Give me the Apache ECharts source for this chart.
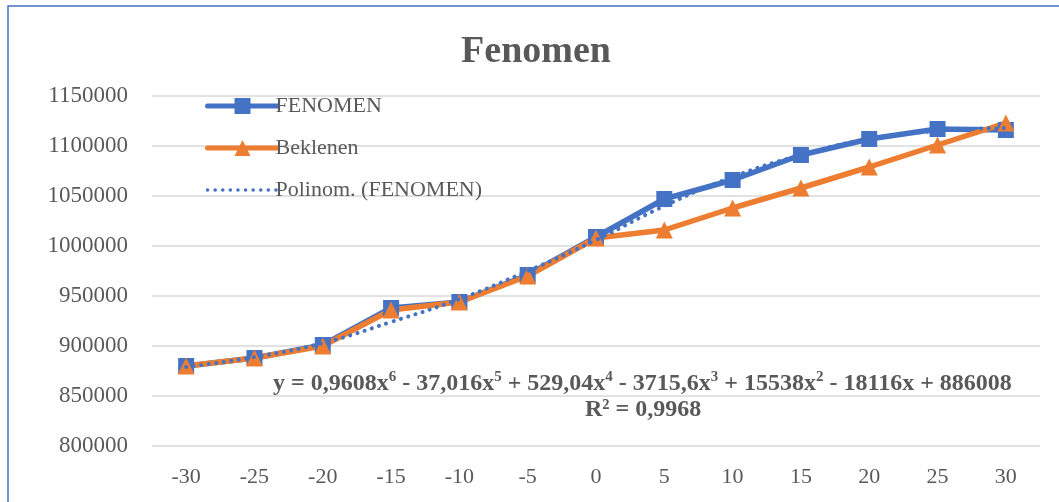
<!DOCTYPE html>
<html>
<head>
<meta charset="utf-8">
<title>Fenomen</title>
<script src="https://cdn.jsdelivr.net/npm/echarts@6/dist/echarts.min.js"></script>
<style>
  html, body { margin: 0; padding: 0; background: #fff; }
  #chart { width: 1059px; height: 502px; }
</style>
</head>
<body>
<div id="chart"></div>
<script>
// categories (x values)
var categories = ['-30', '-25', '-20', '-15', '-10', '-5', '0', '5', '10', '15', '20', '25', '30'];
// measured series
var fenomen = [880000, 888000, 901000, 938000, 944000, 971000, 1009000, 1047000, 1066000, 1091000, 1107000, 1117000, 1116000];
var beklenen = [880000, 888000, 900000, 936000, 944000, 970000, 1008000, 1016000, 1038000, 1058000, 1079000, 1101000, 1123000];
// trendline
var polinom = [879000, 889000, 903000, 924000, 947000, 975000, 1006000, 1040000, 1069000, 1091000, 1107000, 1115000, 1118000];

var textColor = '#595959';
var blue = '#4472C4';
var orange = '#ED7D31';
var font = '"Liberation Serif", "Times New Roman", serif';

var chart = echarts.init(document.getElementById('chart'));
chart.setOption({
  animation: false,
  textStyle: { fontFamily: font },
  title: {
    text: 'Fenomen',
    left: 531,
    textAlign: 'center',
    top: 28,
    textStyle: { fontFamily: font, fontSize: 38, fontWeight: 'bold', color: textColor }
  },
  legend: {
    orient: 'vertical',
    left: 200,
    top: 90,
    itemWidth: 70,
    itemHeight: 20,
    itemGap: 20,
    textStyle: { fontFamily: font, fontSize: 22, color: textColor, padding: [0, 0, 0, -7] },
    data: [
      { name: 'FENOMEN', lineStyle: { width: 5, color: blue }, itemStyle: { color: blue } },
      { name: 'Beklenen', lineStyle: { width: 5, color: orange }, itemStyle: { color: orange } },
      { name: 'Polinom. (FENOMEN)', lineStyle: { width: 3.5, color: blue, type: [0.1, 7.5], cap: 'round' }, itemStyle: { opacity: 0 } }
    ]
  },
  grid: { left: 152, right: 19, top: 96, bottom: 56 },
  xAxis: {
    type: 'category',
    data: categories,
    boundaryGap: true,
    axisLine: { show: false },
    axisTick: { show: false },
    axisLabel: { fontFamily: font, fontSize: 22, color: textColor, margin: 20 }
  },
  yAxis: {
    type: 'value',
    min: 800000,
    max: 1150000,
    interval: 50000,
    axisLine: { show: false },
    axisTick: { show: false },
    axisLabel: {
      fontFamily: font, fontSize: 23, color: textColor, margin: 24,
      formatter: function (v) { return String(v); }
    },
    splitLine: { lineStyle: { color: '#D9D9D9', width: 1.5 } }
  },
  series: [
    {
      name: 'Polinom. (FENOMEN)',
      type: 'line',
      data: polinom,
      smooth: 0.5,
      showSymbol: false,
      symbol: 'none',
      z: 3,
      lineStyle: { color: blue, width: 4, type: [0.1, 7.5], cap: 'round' },
      itemStyle: { color: blue }
    },
    {
      name: 'FENOMEN',
      type: 'line',
      data: fenomen,
      symbol: 'rect',
      symbolSize: 16,
      z: 2,
      lineStyle: { color: blue, width: 5.5, cap: 'round' },
      itemStyle: { color: blue }
    },
    {
      name: 'Beklenen',
      type: 'line',
      data: beklenen,
      symbol: 'triangle',
      symbolSize: 17,
      z: 2,
      lineStyle: { color: orange, width: 5.5, cap: 'round' },
      itemStyle: { color: orange }
    }
  ],
  graphic: [
    {
      type: 'rect',
      shape: { x: 8, y: 6, width: 1080, height: 520 },
      style: { fill: 'none', stroke: blue, lineWidth: 1.5 },
      silent: true
    },
    {
      type: 'text',
      left: 273,
      top: 370,
      style: {
        text: '{b|y = 0,9608x}{s|6}{b| - 37,016x}{s|5}{b| + 529,04x}{s|4}{b| - 3715,6x}{s|3}{b| + 15538x}{s|2}{b| - 18116x + 886008}',
        rich: {
          b: { fontFamily: font, fontSize: 24, fontWeight: 'bold', fill: textColor, verticalAlign: 'bottom', lineHeight: 26 },
          s: { fontFamily: font, fontSize: 15, fontWeight: 'bold', fill: textColor, verticalAlign: 'top', lineHeight: 26, padding: [0, 0, 12, 0] }
        }
      }
    },
    {
      type: 'text',
      left: 585,
      top: 398,
      style: {
        text: 'R² = 0,9968',
        fontFamily: font, fontSize: 24, fontWeight: 'bold', fill: textColor
      }
    }
  ]
});
</script>
</body>
</html>
